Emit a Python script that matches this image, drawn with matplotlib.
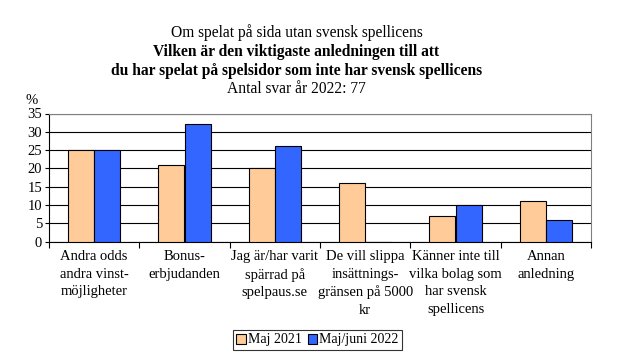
import numpy as np
import matplotlib.pyplot as plt

plt.rcParams['font.family'] = ['Liberation Serif', 'DejaVu Serif']

categories = ['Andra odds\nandra vinst-\nmöjligheter', 'Bonus-\nerbjudanden',
              'Jag är/har varit\nspärrad på\nspelpaus.se',
              'De vill slippa\ninsättnings-\ngränsen på 5000\nkr',
              'Känner inte till\nvilka bolag som\nhar svensk\nspellicens',
              'Annan\nanledning']
maj_2021 = [25, 21, 20, 16, 7, 11]
maj_juni_2022 = [25, 32, 26, 0, 10, 6]

fig = plt.figure(figsize=(6.23, 3.52), dpi=100)
ax = fig.add_axes([49 / 623, 1 - 241.7 / 352, 542 / 623, 128.2 / 352])

x = np.arange(len(categories))
w = 0.288
ax.bar(x - w / 2, maj_2021, w, color='#FFCC99', edgecolor='black', linewidth=0.8,
       label='Maj 2021', zorder=3)
ax.bar(x + w / 2, maj_juni_2022, w, color='#3366FF', edgecolor='black', linewidth=0.8,
       label='Maj/juni 2022', zorder=3)

ax.set_xlim(-0.5, len(categories) - 0.5)
ax.set_ylim(0, 35)
ax.set_yticks(range(0, 36, 5))
ax.yaxis.grid(True, color='black', linewidth=0.8, zorder=0)
ax.tick_params(axis='y', labelsize=10.5, length=3, pad=2)

ax.set_xticks(np.arange(len(categories) + 1) - 0.5)
ax.set_xticklabels([])
ax.set_xticks(x, minor=True)
ax.set_xticklabels(categories, minor=True, fontsize=10.5, linespacing=1.45, va='top')
ax.tick_params(axis='x', which='major', length=4, direction='out')
ax.tick_params(axis='x', which='minor', length=0, pad=6)

for s in ['top', 'right']:
    ax.spines[s].set_color('#808080')
ax.spines['left'].set_color('black')
ax.spines['bottom'].set_color('black')

fig.text(32 / 623, 1 - 100 / 352, '%', fontsize=10.5, ha='center', va='center')

tx = 296.5 / 623
fig.text(tx, 1 - 33 / 352, 'Om spelat på sida utan svensk spellicens',
         fontsize=11.2, ha='center', va='center')
fig.text(tx, 1 - 52 / 352, 'Vilken är den viktigaste anledningen till att',
         fontsize=11.2, fontweight='bold', ha='center', va='center')
fig.text(tx, 1 - 71 / 352, 'du har spelat på spelsidor som inte har svensk spellicens',
         fontsize=11.2, fontweight='bold', ha='center', va='center')
fig.text(tx, 1 - 89 / 352, 'Antal svar år 2022: 77',
         fontsize=11.2, ha='center', va='center')

leg = fig.legend(loc='center', bbox_to_anchor=(317.5 / 623, 1 - 340 / 352), ncol=2,
                 fontsize=10, frameon=True, fancybox=False, edgecolor='black',
                 handlelength=0.7, handleheight=0.7, handletextpad=0.15,
                 columnspacing=0.4, borderpad=0.25, borderaxespad=0)
leg.get_frame().set_linewidth(0.8)

fig.savefig('out.png', dpi=100)
